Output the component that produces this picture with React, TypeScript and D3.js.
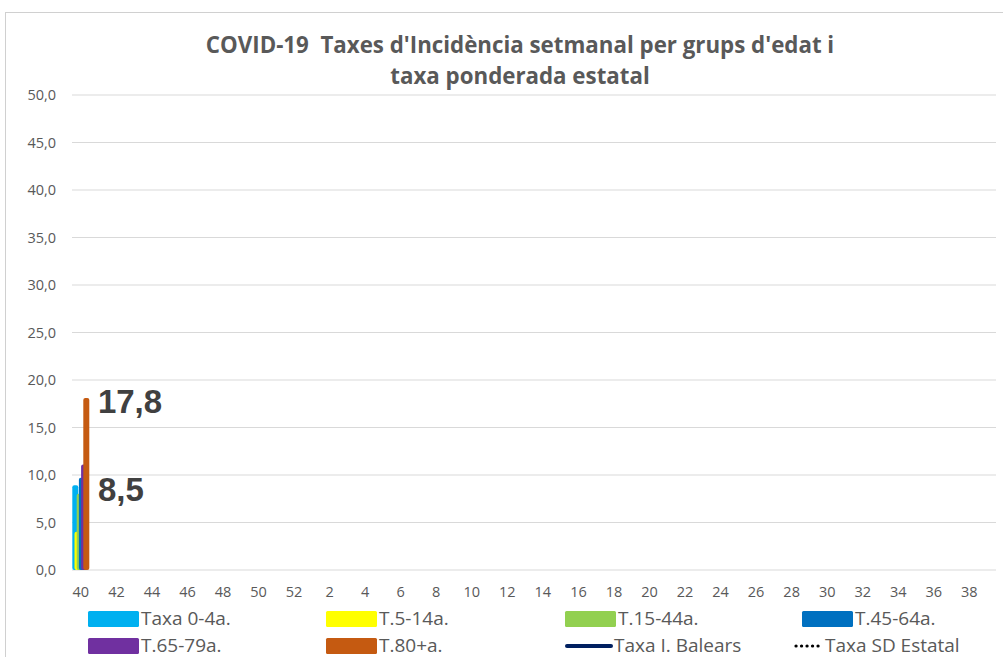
import * as d3 from "d3"

const weeks = [
  "40", "41", "42", "43", "44", "45", "46", "47", "48", "49", "50", "51", "52",
  "1", "2", "3", "4", "5", "6", "7", "8", "9", "10", "11", "12", "13", "14", "15",
  "16", "17", "18", "19", "20", "21", "22", "23", "24", "25", "26", "27", "28",
  "29", "30", "31", "32", "33", "34", "35", "36", "37", "38", "39",
]

// only week 40 has values so far
const taxa0_4 = [8.6]
const taxa5_14 = [3.7]
const taxa15_44 = [7.7]
const taxa45_64 = [9.4]
const taxa65_79 = [10.8]
const taxa80 = [17.8]
const taxaBalears = [8.5]
const taxaEstatal: number[] = []

const yTicks = [0, 5, 10, 15, 20, 25, 30, 35, 40, 45, 50]

const barSeries = [
  { name: "Taxa 0-4a.", color: "#00b0f0", values: taxa0_4 },
  { name: "T.5-14a.", color: "#ffff00", values: taxa5_14 },
  { name: "T.15-44a.", color: "#92d050", values: taxa15_44 },
  { name: "T.45-64a.", color: "#0070c0", values: taxa45_64 },
  { name: "T.65-79a.", color: "#7030a0", values: taxa65_79 },
  { name: "T.80+a.", color: "#c55a11", values: taxa80 },
]

const W = 1003
const H = 657
const left = 72
const right = 996
const top = 95
const bottom = 570
const font = "'Open Sans', 'Liberation Sans', sans-serif"
const labelFont = "'Liberation Sans', Arial, sans-serif"
const grey = "#595959"

const fmt = (v: number) => d3.format(".1f")(v).replace(".", ",")

export default function App() {
  const x = d3.scaleBand().domain(weeks).range([left, right])
  const y = d3.scaleLinear().domain([0, 50]).range([bottom, top])

  const bw = x.bandwidth()
  const barW = 6
  const step = 2.2

  const linePath = d3
    .line<number>()
    .x((_, i) => x(weeks[i])! + bw / 2)
    .y((d) => y(d))

  const legend = [
    ...barSeries.map((s) => ({ name: s.name, color: s.color, kind: "box" })),
    { name: "Taxa I. Balears", color: "#002060", kind: "line" },
    { name: "Taxa SD Estatal", color: "#000000", kind: "dots" },
  ]
  const legendX = [88, 326, 565, 802]
  const legendY = [619, 646]

  return (
    <svg
      width={W}
      height={H}
      style={{ position: "absolute", left: 0, top: 0, background: "#fff" }}
    >
      <rect x={5.5} y={12.5} width={1010} height={660} fill="#fff" stroke="#d0d0d0" />

      <text x={520} y={53} textAnchor="middle" fontFamily={font} fontWeight="bold" fontSize={22.3} fill={grey} style={{ whiteSpace: "pre" }}>
        {"COVID-19  Taxes d'Incidència setmanal per grups d'edat i"}
      </text>
      <text x={520} y={84} textAnchor="middle" fontFamily={font} fontWeight="bold" fontSize={22.3} fill={grey}>
        taxa ponderada estatal
      </text>

      {yTicks.map((t) => (
        <g key={t}>
          <line x1={left} x2={right} y1={y(t)} y2={y(t)} stroke="#d9d9d9" strokeWidth={1} />
          <text x={56} y={y(t) + 5} textAnchor="end" fontFamily={font} fontSize={14.5} fill={grey}>
            {fmt(t)}
          </text>
        </g>
      ))}

      {weeks.map((w, i) =>
        i % 2 === 0 ? (
          <text key={w} x={x(w)! + bw / 2} y={597} textAnchor="middle" fontFamily={font} fontSize={14.5} fill={grey}>
            {w}
          </text>
        ) : null,
      )}

      {barSeries.map((s, si) =>
        s.values.map((v, i) => (
          <rect
            key={s.name + i}
            x={x(weeks[i])! + 0.3 + si * step}
            y={y(v) - 3}
            width={barW}
            height={y(0) - y(v) + 3}
            rx={2}
            fill={s.color}
          />
        )),
      )}

      {taxaBalears.length > 1 && (
        <path d={linePath(taxaBalears)!} fill="none" stroke="#002060" strokeWidth={4} />
      )}
      {taxaEstatal.length > 1 && (
        <path d={linePath(taxaEstatal)!} fill="none" stroke="#000" strokeWidth={3} strokeDasharray="0.1 5.5" strokeLinecap="round" />
      )}

      <text
        x={x(weeks[0])! + bw / 2 + 17}
        y={y(taxa80[0]) + 12}
        fontFamily={labelFont}
        fontWeight="bold"
        fontSize={33}
        fill="#404040"
      >
        {fmt(taxa80[0])}
      </text>
      <text
        x={x(weeks[0])! + bw / 2 + 17}
        y={y(taxaBalears[0]) + 12}
        fontFamily={labelFont}
        fontWeight="bold"
        fontSize={33}
        fill="#404040"
      >
        {fmt(taxaBalears[0])}
      </text>

      {legend.map((l, i) => {
        const lx = l.kind === "dots" ? 795 : legendX[i % 4]
        const ly = legendY[Math.floor(i / 4)]
        return (
          <g key={l.name}>
            {l.kind === "box" && <rect x={lx} y={ly - 8} width={51} height={16} rx={1.5} fill={l.color} />}
            {l.kind === "line" && (
              <line x1={lx + 2} x2={lx + 46} y1={ly} y2={ly} stroke={l.color} strokeWidth={4} strokeLinecap="round" />
            )}
            {l.kind === "dots" && (
              <line x1={lx + 1} x2={lx + 25} y1={ly} y2={ly} stroke={l.color} strokeWidth={3.2} strokeDasharray="0.1 5.4" strokeLinecap="round" />
            )}
            <text
              x={l.kind === "dots" ? lx + 30 : l.kind === "line" ? lx + 49 : lx + 53}
              y={ly + 6}
              fontFamily={font}
              fontSize={19}
              fill={grey}
            >
              {l.name}
            </text>
          </g>
        )
      })}
    </svg>
  )
}
